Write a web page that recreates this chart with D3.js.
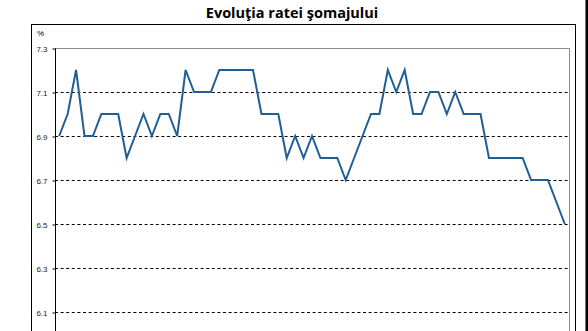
<!DOCTYPE html>
<html>
<head>
<meta charset="utf-8">
<script src="https://cdn.jsdelivr.net/npm/d3@7"></script>
<style>
  html, body { margin: 0; padding: 0; background: #fff; overflow: hidden; }
  svg { display: block; }
</style>
</head>
<body>
<svg id="chart" width="588" height="331"></svg>
<script>
// Monthly unemployment rate (%)
const periods = d3.range(61).map(i => "p" + i);
const rates = [
  6.9, 7.0, 7.2, 6.9, 6.9, 7.0, 7.0, 7.0, 6.8, 6.9,
  7.0, 6.9, 7.0, 7.0, 6.9, 7.2, 7.1, 7.1, 7.1, 7.2,
  7.2, 7.2, 7.2, 7.2, 7.0, 7.0, 7.0, 6.8, 6.9, 6.8,
  6.9, 6.8, 6.8, 6.8, 6.7, 6.8, 6.9, 7.0, 7.0, 7.2,
  7.1, 7.2, 7.0, 7.0, 7.1, 7.1, 7.0, 7.1, 7.0, 7.0,
  7.0, 6.8, 6.8, 6.8, 6.8, 6.8, 6.7, 6.7, 6.7, 6.6,
  6.5
];
const yTicks = [6.1, 6.3, 6.5, 6.7, 6.9, 7.1, 7.3];
const titleText = "Evoluţia ratei şomajului";
const unitText = "%";

const svg = d3.select("#chart");

const plot = { left: 55, right: 569, top: 48, bottom: 356 };

const x = d3.scalePoint()
  .domain(periods)
  .range([plot.left, plot.right])
  .padding(0.5);

const y = d3.scaleLinear()
  .domain([5.9, 7.3])
  .range([plot.bottom, plot.top]);

// Outer chart frame
svg.append("rect")
  .attr("x", 31.5).attr("y", 24.5)
  .attr("width", 544).attr("height", 400)
  .attr("fill", "none").attr("stroke", "#000").attr("stroke-width", 1);

// Thick edge line at the far right
svg.append("rect")
  .attr("x", 585.5).attr("y", 0)
  .attr("width", 3).attr("height", 331)
  .attr("fill", "#000");

// Title
svg.append("text")
  .attr("x", 292).attr("y", 18)
  .attr("text-anchor", "middle")
  .attr("font-family", "'Open Sans', sans-serif")
  .attr("font-weight", "bold")
  .attr("font-size", 14.5)
  .attr("fill", "#000")
  .text(titleText);

// Unit label
svg.append("text")
  .attr("x", 37).attr("y", 36)
  .attr("font-family", "'Liberation Sans', Arial, sans-serif")
  .attr("font-size", 8)
  .attr("fill", "#000")
  .text(unitText);

// Dashed gridlines
svg.append("g")
  .selectAll("line")
  .data(yTicks.filter(v => v < 7.3))
  .join("line")
  .attr("x1", plot.left).attr("x2", plot.right)
  .attr("y1", d => Math.round(y(d)) + 0.5)
  .attr("y2", d => Math.round(y(d)) + 0.5)
  .attr("stroke", "#000")
  .attr("stroke-width", 1)
  .attr("stroke-dasharray", "3,2.6");

// Plot area border: top and right in grey
svg.append("path")
  .attr("d", `M${plot.left},${Math.round(y(7.3)) + 0.5}H${plot.right + 0.5}V${plot.bottom + 20}`)
  .attr("fill", "none")
  .attr("stroke", "#8c8c8c")
  .attr("stroke-width", 1);

// Y axis
const yAxis = d3.axisLeft(y)
  .tickValues(yTicks)
  .tickFormat(d3.format(".1f"))
  .tickSize(3)
  .tickPadding(5);

const gy = svg.append("g")
  .attr("transform", `translate(${plot.left + 0.5},0.5)`)
  .call(yAxis);
gy.select(".domain")
  .attr("d", `M0,${y(7.3)}V${plot.bottom + 20}`)
  .attr("stroke", "#000");
gy.selectAll(".tick line").attr("stroke", "#000");
gy.selectAll(".tick text")
  .attr("font-family", "'Liberation Sans', Arial, sans-serif")
  .attr("font-size", 8)
  .attr("fill", "#222");

// Rate line
const line = d3.line()
  .x((d, i) => x(periods[i]))
  .y(d => y(d));

svg.append("path")
  .datum(rates)
  .attr("d", line)
  .attr("fill", "none")
  .attr("stroke", "#1f5f95")
  .attr("stroke-width", 2)
  .attr("stroke-linejoin", "miter");
</script>
</body>
</html>
